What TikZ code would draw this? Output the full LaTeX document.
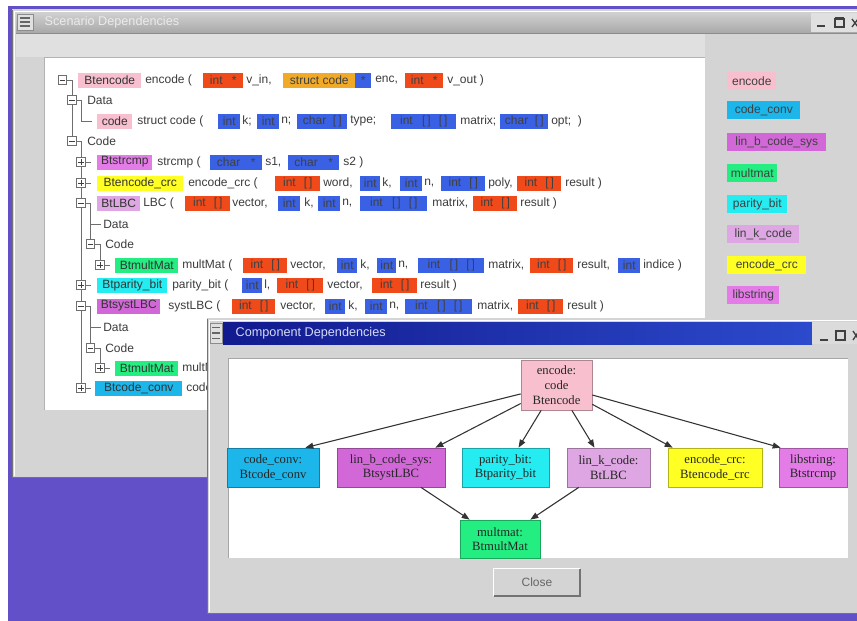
\documentclass[tikz,border=0pt]{standalone}
\usepackage{fontspec}
\setmainfont{Liberation Serif}
\setsansfont{Liberation Sans}
\usetikzlibrary{arrows.meta,calc}
\pgfdeclarelayer{bg}
\pgfdeclarelayer{treelines}
\pgfsetlayers{bg,treelines,main}

\definecolor{desk}{RGB}{98,80,200}
\definecolor{winbg}{RGB}{212,212,212}
\definecolor{linegray}{RGB}{110,110,110}
\definecolor{txtgray}{RGB}{60,60,60}
\definecolor{tblue}{RGB}{58,96,228}
\definecolor{tred}{RGB}{240,74,26}
\definecolor{torange}{RGB}{240,170,40}
\definecolor{cpink}{RGB}{248,192,206}
\definecolor{cdeep}{RGB}{28,182,234}
\definecolor{corchid}{RGB}{210,104,216}
\definecolor{cspring}{RGB}{36,238,130}
\definecolor{ccyan}{RGB}{36,236,240}
\definecolor{cplum}{RGB}{222,166,226}
\definecolor{cyel}{RGB}{255,255,36}
\definecolor{cviolet}{RGB}{228,124,232}
\definecolor{barblueL}{RGB}{18,26,142}
\definecolor{barblueR}{RGB}{44,74,204}

% parameter type labels
\newcommand\tyInt{int}
\newcommand\tyPtr{int\hspace{7pt}*}
\newcommand\tyArr{int\hspace{6pt}[\hspace{1.5pt}]}
\newcommand\tyMat{int\hspace{7pt}[\hspace{1.5pt}]\hspace{6pt}[\hspace{1.5pt}]}
\newcommand\tyCArr{char\hspace{5pt}[\hspace{1.5pt}]}
\newcommand\tyCPtr{char\hspace{8pt}*}

\tikzset{
  treefont/.style={font=\sffamily\fontsize{9}{10.5}\selectfont},
  piece/.style={treefont, anchor=west, inner xsep=0pt, inner ysep=0pt, minimum height=11.25pt, text=txtgray},
  tbox/.style={piece, fill=#1, text=black!75},
  lbl/.style={piece, fill=#1, text=black!80},
  expbox/.style={draw=linegray, fill=white, minimum size=6.5pt, inner sep=0pt, line width=0.6pt},
  tline/.style={draw=linegray, line width=0.6pt},
  legbox/.style={treefont, anchor=west, fill=#1, minimum height=14pt, inner sep=0pt, text=black!75},
  gnode/.style={draw=#1!70!black, fill=#1, line width=0.5pt, font=\rmfamily\fontsize{9.5}{11}\selectfont, align=center, inner sep=0pt, text=black!85},
  dep/.style={draw=black!80, line width=0.8pt, -{Triangle[length=6pt,width=4.5pt]}},
  closebtn/.style={fill=winbg, minimum width=64.5pt, minimum height=20.25pt, inner sep=0pt, font=\sffamily\fontsize{9}{10}\selectfont, text=black!60},
}

% one row of a signature: plain words, then coloured type boxes
\newcommand\partsrow[4]{%
  \foreach \ptX/\ptT [count=\ptI] in {#3}{\node[piece] (#1p\ptI) at (\ptX,#2) {\ptT};}
  \foreach \bxC/\bxX/\bxW/\bxT [count=\bxI] in {#4}{\node[tbox=\bxC, minimum width={\bxW*0.75pt}] (#1b\bxI) at (\bxX,#2) {\bxT};}
}

% tree expander box with a minus or plus sign
\newcommand\expnode[4]{%
  \node[expbox] (#1) at (#2,#3) {};
  \draw[black!75, line width=0.5pt] ($(#1.center)+(-2pt,0pt)$) -- ($(#1.center)+(2pt,0pt)$);
  \if#4+\draw[black!75, line width=0.5pt] ($(#1.center)+(0pt,-2pt)$) -- ($(#1.center)+(0pt,2pt)$);\fi
}

\begin{document}
\begin{tikzpicture}[x=0.75pt,y=-0.75pt]
\useasboundingbox (0,0) rectangle (857,621);

% desktop and the scenario window
\begin{pgfonlayer}{bg}
  \fill[white] (0,0) rectangle (857,621);
  \fill[desk] (8,6) rectangle (857,621);
  \fill[winbg] (12,9) rectangle (875,478);
  \draw[black!55, line width=0.8pt] (12.5,9.5) -- (12.5,477.5) -- (875,477.5);
  \draw[white, line width=0.6pt] (14.5,476) -- (14.5,11.5) -- (875,11.5);
  \shade[top color=black!18, bottom color=black!34] (16,12) rectangle (875,33);
  \draw[black!45, line width=0.6pt] (16,33) -- (875,33);
  \fill[black!12] (16,34) rectangle (705,57);
  \fill[white] (44,57) rectangle (705,410);
  \draw[black!30, line width=0.5pt] (44,410) -- (44,57) -- (705,57);
\end{pgfonlayer}

% scenario window title bar
\node[draw=black!45, fill=black!12, minimum width=12pt, minimum height=12pt, inner sep=0pt] (icon1) at (25,22) {};
\foreach \d in {-3,0,3}
  \draw[black!60, line width=0.8pt] ($(icon1.center)+(-4pt,\d pt)$) -- ($(icon1.center)+(4pt,\d pt)$);
\node[anchor=west, font=\sffamily\fontsize{9.5}{11}\selectfont, text=black!8] (title1) at (40,22) {Scenario Dependencies};
\fill[black!12] (811,13) rectangle (875,32);
\draw[black!75, line width=1.4pt] (817,26) -- (825,26);
\draw[black!75, line width=0.8pt] (835,18.5) rectangle (844,27);
\draw[black!75, line width=2pt] (835,18.5) -- (844,18.5);
\draw[black!75, line width=1pt] (852,19) -- (858,27) (852,27) -- (858,19);

% tree expanders
\expnode{e1}{62.5}{80}{-}
\expnode{e2}{72}{100}{-}
\expnode{e4}{72}{141}{-}
\expnode{e5}{81}{162}{+}
\expnode{e6}{81}{183}{+}
\expnode{e7}{81}{203}{-}
\expnode{e9}{90.5}{244}{-}
\expnode{e10}{100}{265}{+}
\expnode{e11}{81}{285}{+}
\expnode{e12}{81}{306}{-}
\expnode{e14}{90.5}{348}{-}
\expnode{e15}{100}{368}{+}
\expnode{e16}{81}{388}{+}

% tree entries
\node[lbl=cpink, minimum width={63*0.75pt}] (r1l) at (78,80) {Btencode};
\partsrow{r1}{80}{145/{encode (}, 246/{v\_in,}, 375/{enc,}, 447/{v\_out )}}
  {tred/203/40/\tyPtr, torange/283/72/{struct code}, tblue/355/16/*, tred/405/38/\tyPtr}

\node[piece] (r2t) at (87,100) {Data};

\node[lbl=cpink, minimum width={35*0.75pt}] (r3l) at (97,121) {code};
\partsrow{r3}{121}{137/{struct code (}, 242/{k;}, 281/{n;}, 350/{type;}, 460/{matrix;}, 551/{opt;\ \ )}}
  {tblue/218/22/\tyInt, tblue/257/22/\tyInt, tblue/297/50/\tyCArr, tblue/391/65/\tyMat, tblue/500/48/\tyCArr}

\node[piece] (r4t) at (87,141) {Code};

\node[lbl=cviolet, minimum width={55*0.75pt}] (r5l) at (97,162) {Btstrcmp};
\partsrow{r5}{162}{157/{strcmp (}, 265/{s1,}, 343/{s2 )}}
  {tblue/210/52/\tyCPtr, tblue/288/51/\tyCPtr}

\node[lbl=cyel, minimum width={86*0.75pt}] (r6l) at (97,183) {Btencode\_crc};
\partsrow{r6}{183}{188/{encode\_crc (}, 323/{word,}, 382/{k,}, 424/{n,}, 488/{poly,}, 565/{result )}}
  {tred/275/45/\tyArr, tblue/360/20/\tyInt, tblue/400/22/\tyInt, tblue/441/44/\tyArr, tred/517/44/\tyArr}

\node[lbl=cplum, minimum width={43*0.75pt}] (r7l) at (97,203) {BtLBC};
\partsrow{r7}{203}{143/{LBC (}, 232/{vector,}, 304/{k,}, 342/{n,}, 432/{matrix,}, 520/{result )}}
  {tred/185/45/\tyArr, tblue/278/22/\tyInt, tblue/318/22/\tyInt, tblue/360/67/\tyMat, tred/473/44/\tyArr}

\node[piece] (r8t) at (103,224) {Data};
\node[piece] (r9t) at (105,244) {Code};

\node[lbl=cspring, minimum width={63*0.75pt}] (r10l) at (115,265) {BtmultMat};
\partsrow{r10}{265}{182/{multMat (}, 290/{vector,}, 360/{k,}, 398/{n,}, 488/{matrix,}, 577/{result,}, 643/{indice )}}
  {tred/243/44/\tyArr, tblue/337/20/\tyInt, tblue/377/19/\tyInt, tblue/418/66/\tyMat, tred/530/43/\tyArr, tblue/618/22/\tyInt}

\node[lbl=ccyan, minimum width={70*0.75pt}] (r11l) at (97,285) {Btparity\_bit};
\partsrow{r11}{285}{172/{parity\_bit (}, 264/{l,}, 327/{vector,}, 420/{result )}}
  {tblue/242/20/\tyInt, tred/277/46/\tyArr, tred/372/45/\tyArr}

\node[lbl=corchid, minimum width={63*0.75pt}] (r12l) at (97,306) {BtsystLBC};
\partsrow{r12}{306}{168/{systLBC (}, 280/{vector,}, 348/{k,}, 389/{n,}, 477/{matrix,}, 567/{result )}}
  {tred/232/43/\tyArr, tblue/325/20/\tyInt, tblue/365/22/\tyInt, tblue/405/67/\tyMat, tred/518/45/\tyArr}

\node[piece] (r13t) at (103,327) {Data};
\node[piece] (r14t) at (105,348) {Code};

\node[lbl=cspring, minimum width={63*0.75pt}] (r15l) at (115,368) {BtmultMat};
\node[piece] (r15p1) at (182,368) {multMat (};

\node[lbl=cdeep, minimum width={87*0.75pt}] (r16l) at (95,388) {Btcode\_conv};
\node[piece] (r16p1) at (186,388) {code\_conv (};

% tree connector lines
\begin{pgfonlayer}{treelines}
  \draw[tline] (e1) -| (e4);
  \coordinate (k3) at (81,121);
  \draw[tline] (e2) -| (k3) -- ($(r3l.west)+(-5,0)$);
  \draw[tline] (e4) -| (e16);
  \foreach \e in {e5,e6,e10,e11,e15,e16} \draw[tline] (\e.east) -- ++(5.5,0);
  \draw[tline] (e7) -| (e9);
  \coordinate (k8) at (90.5,224);
  \draw[tline] (k8) -- ($(r8t.west)+(-2,0)$);
  \draw[tline] (e9) -| (e10);
  \draw[tline] (e12) -| (e14);
  \coordinate (k13) at (90.5,327);
  \draw[tline] (k13) -- ($(r13t.west)+(-2,0)$);
  \draw[tline] (e14) -| (e15);
\end{pgfonlayer}

% component colour legend
\foreach \lc/\ly/\lw/\lt [count=\i] in {cpink/81/49/encode, cdeep/110/73/code\_conv, corchid/142/99/lin\_b\_code\_sys, cspring/173/50/multmat, ccyan/204/60/parity\_bit, cplum/234/72/lin\_k\_code, cyel/265/79/encode\_crc, cviolet/295/52/libstring}
  \node[legbox=\lc, minimum width={\lw*0.75pt}] (lg\i) at (727,\ly) {\lt};

% component dependencies window
\fill[winbg] (207,318) rectangle (875,614);
\draw[black!55, line width=0.8pt] (207.5,318.5) -- (207.5,613.5) -- (875,613.5);
\draw[white, line width=0.6pt] (209.5,612) -- (209.5,320.5) -- (875,320.5);
\node[draw=black!45, fill=black!12, minimum width=9pt, minimum height=15pt, inner sep=0pt] (icon2) at (216,333) {};
\foreach \d in {-4,0,4}
  \draw[black!60, line width=0.8pt] ($(icon2.center)+(-3pt,\d pt)$) -- ($(icon2.center)+(3pt,\d pt)$);
\shade[left color=barblueL, right color=barblueR] (223,322) rectangle (812,344);
\fill[black!14] (812,322) rectangle (875,344);
\node[anchor=west, font=\sffamily\fontsize{9.5}{11}\selectfont, text=white!80!barblueR] (title2) at (231,333) {Component Dependencies};
\draw[black!75, line width=1.4pt] (820,340) -- (828,340);
\draw[black!75, line width=0.8pt] (836,331) rectangle (845,340);
\draw[black!75, line width=2pt] (836,331) -- (845,331);
\draw[black!75, line width=1pt] (853,331) -- (859,340) (853,340) -- (859,331);

\fill[white] (228,358) rectangle (848,558);
\draw[black!35, line width=0.5pt] (228,558) -- (228,358) -- (848,358);

% dependency graph
\node[gnode=cpink, minimum width={71*0.75pt}, minimum height={50*0.75pt}] (genc) at (556.5,385) {encode:\\code\\Btencode};
\node[gnode=cdeep, minimum width={92*0.75pt}, minimum height={39*0.75pt}] (gcc) at (273,467.5) {code\_conv:\\Btcode\_conv};
\node[gnode=corchid, minimum width={108*0.75pt}, minimum height={39*0.75pt}] (glinb) at (391,467.5) {lin\_b\_code\_sys:\\BtsystLBC};
\node[gnode=ccyan, minimum width={87*0.75pt}, minimum height={39*0.75pt}] (gpar) at (505.5,467.5) {parity\_bit:\\Btparity\_bit};
\node[gnode=cplum, minimum width={83*0.75pt}, minimum height={39*0.75pt}] (glink) at (608.5,467.5) {lin\_k\_code:\\BtLBC};
\node[gnode=cyel, minimum width={94*0.75pt}, minimum height={39*0.75pt}] (gcrc) at (715,467.5) {encode\_crc:\\Btencode\_crc};
\node[gnode=cviolet, minimum width={68*0.75pt}, minimum height={39*0.75pt}] (glib) at (813,467.5) {libstring:\\Btstrcmp};
\node[gnode=cspring, minimum width={80*0.75pt}, minimum height={38*0.75pt}] (gmm) at (500,539) {multmat:\\BtmultMat};

\draw[dep] (genc) -- ($(gcc.north east)+(-14,0)$);
\draw[dep] (genc) -- ($(glinb.north east)+(-10,0)$);
\draw[dep] (genc) -- ($(gpar.north)+(13,0)$);
\draw[dep] (genc) -- ($(glink.north)+(-14,0)$);
\draw[dep] (genc) -- ($(gcrc.north west)+(5,0)$);
\draw[dep] (genc) -- ($(glib.north west)+(2,0)$);
\draw[dep] (glinb) -- ($(gmm.north west)+(10,0)$);
\draw[dep] (glink) -- ($(gmm.north east)+(-10,0)$);

% close button
\node[closebtn] (close) at (537,582.5) {Close};
\draw[white, line width=1pt] (close.south west) -- (close.north west) -- (close.north east);
\draw[black!55, line width=1.2pt] (close.north east) -- (close.south east) -- (close.south west);

\end{tikzpicture}
\end{document}
